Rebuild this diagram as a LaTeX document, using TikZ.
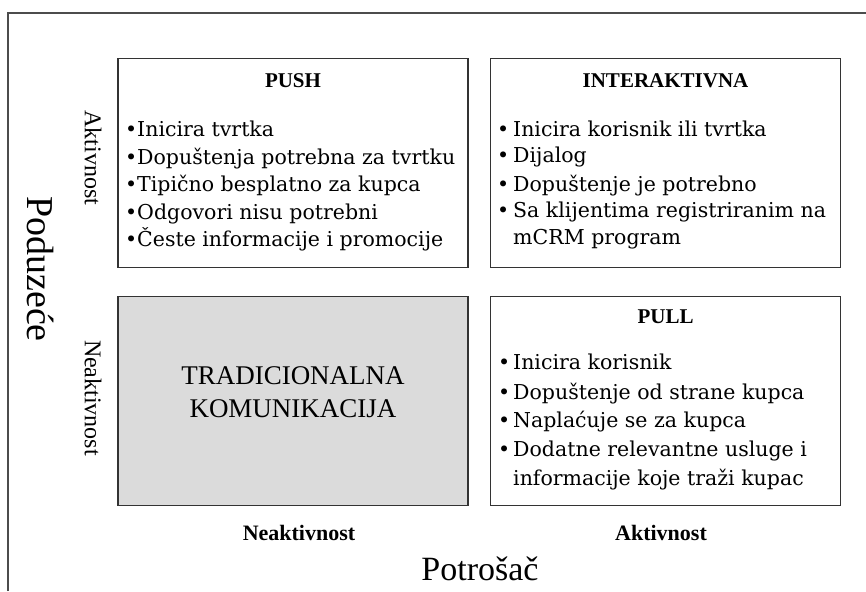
\documentclass[tikz,border=0pt]{standalone}
\usepackage{fontspec}
\setmainfont{DejaVu Serif}
\newfontfamily\headfont{Liberation Serif}
\begin{document}
\begin{tikzpicture}[x=1pt,y=1pt]
      \tikzset{
        quad/.style={draw=black!80, line width=1.5pt, minimum width=350pt, minimum height=209pt, inner sep=0pt},
        heading/.style={font=\headfont\bfseries\fontsize{21}{21}\selectfont},
        item/.style={anchor=base west, inner sep=0pt, font=\fontsize{20.5}{22}\selectfont},
        axisname/.style={font=\headfont\fontsize{24}{24}\selectfont, rotate=-90},
        axisvalue/.style={font=\headfont\bfseries\fontsize{22}{22}\selectfont}
      }
      \useasboundingbox (0,0) rectangle (866,591);
      \draw[line width=1.5pt, black!70] (8,0) -- (8,578) -- (866,578);

      \node[quad] (push) at (293,428) {};
      \node[quad] (inter) at (665.5,428) {};
      \node[quad, fill=black!14] (trad) at (293,190) {};
      \node[quad] (pull) at (665.5,190) {};

      \node[heading] (push-title) at ([yshift=-23pt]push.north) {PUSH};
      \node[heading] (inter-title) at ([yshift=-23pt]inter.north) {INTERAKTIVNA};
      \node[heading] (pull-title) at ([yshift=-21pt]pull.north) {PULL};

      \foreach \t/\y [count=\i] in {Inicira tvrtka/454, Dopuštenja potrebna za tvrtku/426.5,
          Tipično besplatno za kupca/399, Odgovori nisu potrebni/371.5, Česte informacije i promocije/344} {
        \node[item] (push-\i) at (125,\y) {\makebox[12pt][l]{•}\t};
      }
      \foreach \b/\t/\y [count=\i] in {•/Inicira korisnik ili tvrtka/454, •/Dijalog/428,
          •/Dopuštenje je potrebno/399, •/Sa klijentima registriranim na/373, {}/mCRM program/346} {
        \node[item] (inter-\i) at (497,\y) {\makebox[16pt][l]{\b}\t};
      }
      \foreach \b/\t/\y [count=\i] in {•/Inicira korisnik/221, •/Dopuštenje od strane kupca/191,
          •/Naplaćuje se za kupca/163, •/Dodatne relevantne usluge i/134, {}/informacije koje traži kupac/105} {
        \node[item] (pull-\i) at (498,\y) {\makebox[15pt][l]{\b}\t};
      }

      \node[align=center, font=\headfont\fontsize{27}{33}\selectfont] (trad-text) at ([yshift=9pt]trad.center)
        {TRADICIONALNA\\KOMUNIKACIJA};

      \node[axisname] (firm-on) at (93,433) {Aktivnost};
      \node[axisname] (firm-off) at (93,193) {Neaktivnost};
      \node[axisname, font=\headfont\fontsize{38}{38}\selectfont] (firm) at (41,322) {Poduzeće};

      \node[axisvalue] (buyer-off) at (299,58) {Neaktivnost};
      \node[axisvalue] (buyer-on) at (661,58) {Aktivnost};
      \node[font=\headfont\fontsize{34}{34}\selectfont] (buyer) at (480,22) {Potrošač};
    \end{tikzpicture}
\end{document}
